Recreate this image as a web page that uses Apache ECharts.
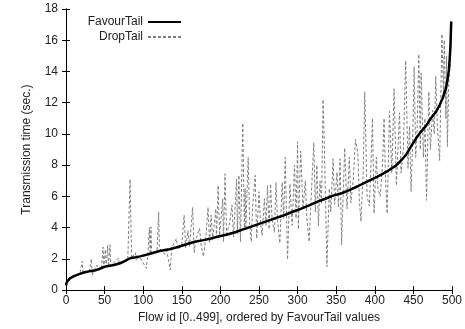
<!DOCTYPE html>
<html>
<head>
<meta charset="utf-8">
<script src="https://cdn.jsdelivr.net/npm/echarts@6/dist/echarts.min.js"></script>
<style>
html,body{margin:0;padding:0;background:#fff;}
#chart{width:465px;height:329px;}
</style>
</head>
<body>
<div id="chart"></div>
<script>
// ---- data ----
const xTicks = [0, 50, 100, 150, 200, 250, 300, 350, 400, 450, 500];
const yTicks = [0, 2, 4, 6, 8, 10, 12, 14, 16, 18];

const favourX = [0,1,2,5,11,17,24,30,37,43,49,55,62,70,76,83,90,96,108,121,134,146,157,167,178,188,199,209,220,230,241,251,262,272,283,293,304,315,325,336,346,357,367,378,390,403,416,422,428,435,441,447,454,460,466,472,479,484,488,492,494,496,497,498,499];
const favourY = [0.3,0.5,0.62,0.75,0.91,1.02,1.14,1.2,1.25,1.35,1.48,1.55,1.61,1.72,1.85,2.04,2.1,2.16,2.31,2.5,2.62,2.78,2.95,3.1,3.2,3.31,3.45,3.56,3.72,3.9,4.08,4.26,4.45,4.62,4.8,5.0,5.2,5.43,5.65,5.85,6.05,6.2,6.4,6.65,6.95,7.25,7.6,7.8,8.0,8.35,8.7,9.2,9.75,10.15,10.5,10.95,11.4,11.85,12.3,12.9,13.4,14.1,14.8,15.6,17.2];

const dropX = [0,3,10,18,21,22,30,33,34,36,40,41,46,48,49,51,52,54,55,57,58,60,68,69,76,80,83,85,90,91,95,104,106,108,109,110,111,118,120,121,123,125,128,130,135,137,143,145,150,153,155,158,160,164,166,168,173,175,178,181,184,186,188,190,194,195,197,199,203,204,206,208,212,215,217,221,222,224,226,229,231,232,233,236,238,240,242,245,247,250,252,254,257,259,261,263,265,267,270,272,274,277,280,282,284,287,290,293,296,298,300,301,304,307,310,312,315,318,321,323,325,327,329,331,333,335,338,341,343,346,348,351,353,355,357,359,361,364,367,369,372,375,378,380,382,385,387,390,393,395,397,399,402,404,407,410,412,414,416,419,422,425,428,432,434,437,440,443,445,447,449,451,453,455,457,459,460,463,465,467,470,472,475,477,479,481,484,487,489,490,492,493,494,496,498,499];
const dropY = [0.35,0.7,0.9,1.05,1.85,1.05,1.2,2.0,0.95,1.25,1.6,1.3,1.4,2.75,1.45,2.6,1.5,2.85,1.5,2.9,1.55,1.6,2.05,1.65,1.85,1.9,7.1,2.05,2.4,1.9,2.15,1.4,2.25,4.0,2.3,4.05,2.35,2.5,5.0,2.8,2.5,2.55,2.3,2.7,1.3,2.7,3.3,2.6,2.9,4.8,2.7,3.8,2.8,5.3,2.4,3.2,3.95,2.9,2.15,3.3,5.3,3.0,4.8,3.2,5.2,3.4,6.7,3.5,5.85,3.1,7.45,3.6,4.3,5.45,3.4,7.1,3.6,7.35,3.1,10.7,4.0,6.5,4.05,8.5,4.2,3.1,5.5,7.35,3.3,6.3,4.3,3.5,5.85,4.1,6.7,3.9,6.8,4.5,3.7,6.9,4.5,3.0,6.9,4.6,8.5,1.95,6.8,4.15,8.0,4.6,9.5,3.9,8.9,5.2,7.0,4.6,3.1,6.4,9.45,5.0,8.0,4.1,7.0,5.5,12.2,8.6,1.5,6.5,5.0,8.4,5.5,7.55,5.3,8.4,2.9,6.0,9.1,5.2,8.5,5.6,7.0,9.65,8.8,5.8,4.4,7.5,12.7,6.0,5.4,8.0,11.0,4.9,8.5,6.5,6.0,8.0,11.0,7.0,4.9,11.45,7.5,12.9,6.7,11.35,7.5,9.0,14.7,7.8,10.5,6.3,9.5,14.3,8.5,10.5,15.1,9.0,13.9,8.5,11.0,5.75,12.7,9.0,11.5,10.0,13.7,10.5,8.3,16.4,12.5,16.0,11.0,15.0,9.2,13.5,14.5,17.2];

// ---- build ----
const favourData = favourX.map((x, i) => [x, favourY[i]]);
const dropData = dropX.map((x, i) => [x, dropY[i]]);
const FONT = '"Liberation Sans", Arial, sans-serif';
const TXT = '#222';
const FS = 12;

const chart = echarts.init(document.getElementById('chart'), null, {renderer: 'canvas'});

function baseAxisLine(){ return {show: true, lineStyle: {color: '#000', width: 1}}; }
function legendFor(name, top){
  return {data: [name], right: 278, top: top, align: 'right', itemWidth: 33, itemHeight: 10, itemGap: 0,
    itemStyle: {color: 'rgba(0,0,0,0)', borderWidth: 0, opacity: 0},
    textStyle: {fontFamily: FONT, fontSize: FS, color: TXT}, selectedMode: false};
}

chart.setOption({
  animation: false,
  backgroundColor: '#fff',
  textStyle: {fontFamily: FONT},
  grid: {left: 66, top: 9, right: 3, bottom: 37, containLabel: false},
  legend: [legendFor('FavourTail', 11), legendFor('DropTail', 26)],
  xAxis: [
    {type: 'value', min: xTicks[0], max: xTicks[xTicks.length-1], interval: xTicks[1]-xTicks[0],
     name: 'Flow id [0..499], ordered by FavourTail values', nameLocation: 'middle', nameGap: 15,
     nameTextStyle: {fontFamily: FONT, fontSize: FS, color: TXT},
     axisLine: baseAxisLine(), axisTick: {show: true, inside: true, length: 4, lineStyle: {color: '#000'}},
     axisLabel: {fontFamily: FONT, fontSize: FS, color: TXT, margin: 5, showMaxLabel: true},
     splitLine: {show: false}},
    {type: 'value', position: 'top', min: xTicks[0], max: xTicks[xTicks.length-1], interval: xTicks[1]-xTicks[0],
     axisLine: baseAxisLine(), axisTick: {show: true, inside: true, length: 4, lineStyle: {color: '#000'}},
     axisLabel: {show: false}, splitLine: {show: false}}
  ],
  yAxis: [
    {type: 'value', min: yTicks[0], max: yTicks[yTicks.length-1], interval: yTicks[1]-yTicks[0],
     name: 'Transmission time (sec.)', nameLocation: 'middle', nameGap: 33,
     nameTextStyle: {fontFamily: FONT, fontSize: FS, color: TXT},
     axisLine: baseAxisLine(), axisTick: {show: true, inside: true, length: 4, lineStyle: {color: '#000'}},
     axisLabel: {fontFamily: FONT, fontSize: FS, color: TXT, margin: 8},
     splitLine: {show: false}},
    {type: 'value', position: 'right', min: yTicks[0], max: yTicks[yTicks.length-1], interval: yTicks[1]-yTicks[0],
     axisLine: baseAxisLine(), axisTick: {show: true, inside: true, length: 4, lineStyle: {color: '#000'}},
     axisLabel: {show: false}, splitLine: {show: false}}
  ],
  series: [
    {name: 'DropTail', type: 'line', data: dropData, symbol: 'none', z: 2,
     lineStyle: {color: '#808080', width: 1, type: [3, 2]}, itemStyle: {color: '#808080'}},
    {name: 'FavourTail', type: 'line', data: favourData, symbol: 'none', z: 3,
     lineStyle: {color: '#000', width: 2.5}, itemStyle: {color: '#000'}}
  ]
});
</script>
</body>
</html>
